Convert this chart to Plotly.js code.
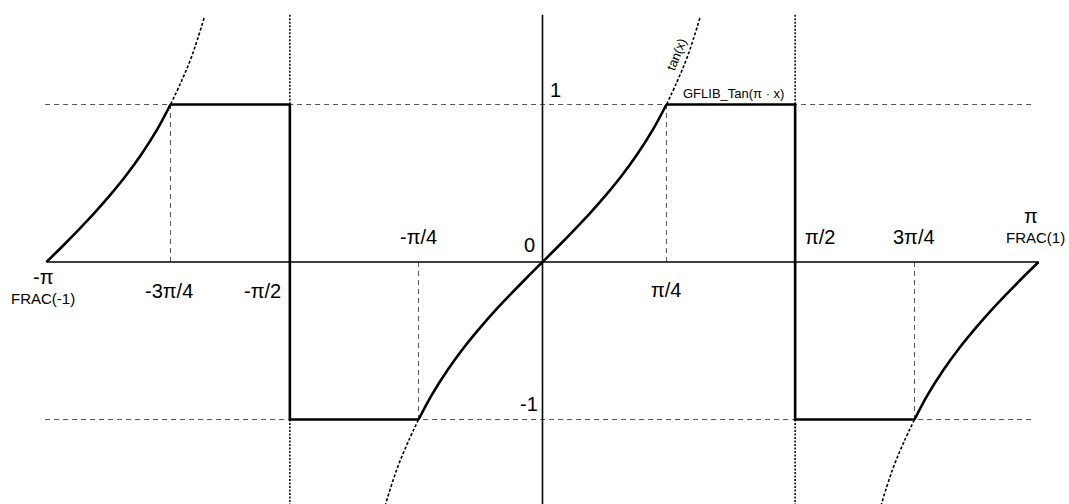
<!DOCTYPE html>
<html>
<head>
<meta charset="utf-8">
<script src="https://cdn.plot.ly/plotly-3.0.1.min.js"></script>
<style>
  html, body { margin: 0; padding: 0; background: #ffffff; }
  #chart { width: 1069px; height: 504px; }
</style>
</head>
<body>
<div id="chart"></div>
<script>
// Angle positions (radians) marked on the horizontal axis
const tickValues = [-3.1416, -2.356, -1.60, -0.785, 0, 0.785, 1.60, 2.356, 3.1416];
const tickLabels = ['-π', '-3π/4', '-π/2', '-π/4', '0', 'π/4', 'π/2', '3π/4', 'π'];

// Output levels of the saturated function
const levels = [1, -1];
const levelLabels = ['1', '-1'];

// GFLIB_Tan(π·x): tan segments
const leftCurveX = [-3.1416, -3.04, -2.94, -2.84, -2.74, -2.64, -2.54, -2.44, -2.356];
const leftCurveY = [0, 0.100, 0.203, 0.309, 0.423, 0.546, 0.684, 0.842, 1];
const midCurveX = [-0.785, -0.70, -0.60, -0.50, -0.40, -0.30, -0.20, -0.10, 0,
                   0.10, 0.20, 0.30, 0.40, 0.50, 0.60, 0.70, 0.785];
const midCurveY = [-1, -0.842, -0.684, -0.546, -0.423, -0.309, -0.203, -0.100, 0,
                   0.100, 0.203, 0.309, 0.423, 0.546, 0.684, 0.842, 1];
const rightCurveX = [2.356, 2.44, 2.54, 2.64, 2.74, 2.84, 2.94, 3.04, 3.1416];
const rightCurveY = [-1, -0.842, -0.684, -0.546, -0.423, -0.309, -0.203, -0.100, 0];

// GFLIB_Tan(π·x): saturated steps
const stepLeftX = [-2.356, -1.60, -1.60, -0.785];
const stepLeftY = [1, 1, -1, -1];
const stepRightX = [0.785, 1.60, 1.60, 2.356];
const stepRightY = [1, 1, -1, -1];

// tan(x) continuation beyond the saturation points
const tanUpLeftX = [-2.356, -2.29, -2.22, -2.14];
const tanUpLeftY = [1, 1.14, 1.31, 1.56];
const tanUpMidX = [0.785, 0.85, 0.92, 1.00];
const tanUpMidY = [1, 1.14, 1.31, 1.56];
const tanDownMidX = [-0.785, -0.85, -0.92, -1.00, -1.08];
const tanDownMidY = [-1, -1.14, -1.31, -1.56, -1.88];
const tanDownRightX = [2.356, 2.29, 2.22, 2.14, 2.06];
const tanDownRightY = [-1, -1.14, -1.31, -1.56, -1.88];

const yTop = 1.57;
const yBottom = -1.6;
const xLeft = -3.15, xRight = 3.12;

const traces = [];
const gray = { color: '#555555', width: 1, dash: '5px,4px' };

// dashed level lines
levels.forEach(v => traces.push({ x: [xLeft, xRight], y: [v, v], mode: 'lines', line: gray, hoverinfo: 'skip' }));

// dashed drop lines from the saturation points to the axis
[[tickValues[1], 1], [tickValues[3], -1], [tickValues[5], 1], [tickValues[7], -1]].forEach(([x, y]) =>
  traces.push({ x: [x, x], y: [0, y], mode: 'lines', line: gray, hoverinfo: 'skip' }));

// dotted asymptote lines at ±π/2
const asym = { color: '#000000', width: 1.5, dash: '2px,1.5px' };
[tickValues[2], tickValues[6]].forEach(x => {
  traces.push({ x: [x, x], y: [yTop, 1], mode: 'lines', line: asym, hoverinfo: 'skip' });
  traces.push({ x: [x, x], y: [-1, yBottom], mode: 'lines', line: asym, hoverinfo: 'skip' });
});

// axes
const axisLine = { color: '#000000', width: 1.6 };
traces.push({ x: [tickValues[0], tickValues[8]], y: [0, 0], mode: 'lines', line: axisLine, hoverinfo: 'skip' });
traces.push({ x: [0, 0], y: [yTop, yBottom], mode: 'lines', line: axisLine, hoverinfo: 'skip' });

// tan(x) dotted continuations
const dotted = { color: '#000000', width: 1.6, dash: '3px,2px', shape: 'spline' };
[[tanUpLeftX, tanUpLeftY], [tanUpMidX, tanUpMidY], [tanDownMidX, tanDownMidY], [tanDownRightX, tanDownRightY]]
  .forEach(([x, y]) => traces.push({ x, y, mode: 'lines', line: dotted, hoverinfo: 'skip' }));

// GFLIB_Tan solid function
const solid = { color: '#000000', width: 2.6, shape: 'spline' };
[[leftCurveX, leftCurveY], [midCurveX, midCurveY], [rightCurveX, rightCurveY]]
  .forEach(([x, y]) => traces.push({ x, y, mode: 'lines', line: solid, hoverinfo: 'skip' }));
const solidStep = { color: '#000000', width: 2.6 };
[[stepLeftX, stepLeftY], [stepRightX, stepRightY]]
  .forEach(([x, y]) => traces.push({ x, y, mode: 'lines', line: solidStep, hoverinfo: 'skip' }));

// label placement offsets in pixels (xshift, yshift)
const tickOffsets = [[-3, -15], [-1, -29], [-27, -29], [0, 25], [-13, 17], [0, -28], [25, 25], [-1, 25], [-8, 46]];
const fontFamily = 'Liberation Sans, Arial, sans-serif';
const bigFont = { family: fontFamily, size: 20, color: '#000000' };
const smallFont = { family: fontFamily, size: 15, color: '#000000' };
const tinyFont = { family: fontFamily, size: 13, color: '#000000' };

const annotations = tickLabels.map((t, i) => ({
  x: tickValues[i], y: 0, xref: 'x', yref: 'y', text: t, showarrow: false,
  xshift: tickOffsets[i][0], yshift: tickOffsets[i][1], font: bigFont
}));
annotations.push({ x: tickValues[0], y: 0, xref: 'x', yref: 'y', text: 'FRAC(-1)', showarrow: false, xshift: -3, yshift: -36, font: smallFont });
annotations.push({ x: tickValues[8], y: 0, xref: 'x', yref: 'y', text: 'FRAC(1)', showarrow: false, xshift: -3, yshift: 25, font: smallFont });
const levelOffsets = [[13, 15], [-14, 16]];
levels.forEach((v, i) => annotations.push({
  x: 0, y: v, xref: 'x', yref: 'y', text: levelLabels[i], showarrow: false,
  xshift: levelOffsets[i][0], yshift: levelOffsets[i][1], font: bigFont
}));
annotations.push({ x: tickValues[5], y: 1, xref: 'x', yref: 'y', text: 'GFLIB_Tan(π · x)', showarrow: false, xshift: 67, yshift: 11, font: tinyFont });
annotations.push({ x: tickValues[5], y: 1, xref: 'x', yref: 'y', text: 'tan(x)', showarrow: false, xshift: 10, yshift: 50, textangle: -68, font: tinyFont });

const layout = {
  width: 1069, height: 504,
  margin: { l: 0, r: 0, t: 0, b: 0, pad: 0 },
  paper_bgcolor: '#ffffff', plot_bgcolor: '#ffffff',
  showlegend: false,
  xaxis: { range: [-3.4357, 3.3344], visible: false, fixedrange: true },
  yaxis: { range: [-1.5365, 1.6635], visible: false, fixedrange: true },
  annotations
};

Plotly.newPlot('chart', traces, layout, { staticPlot: true, displayModeBar: false });
</script>
</body>
</html>
